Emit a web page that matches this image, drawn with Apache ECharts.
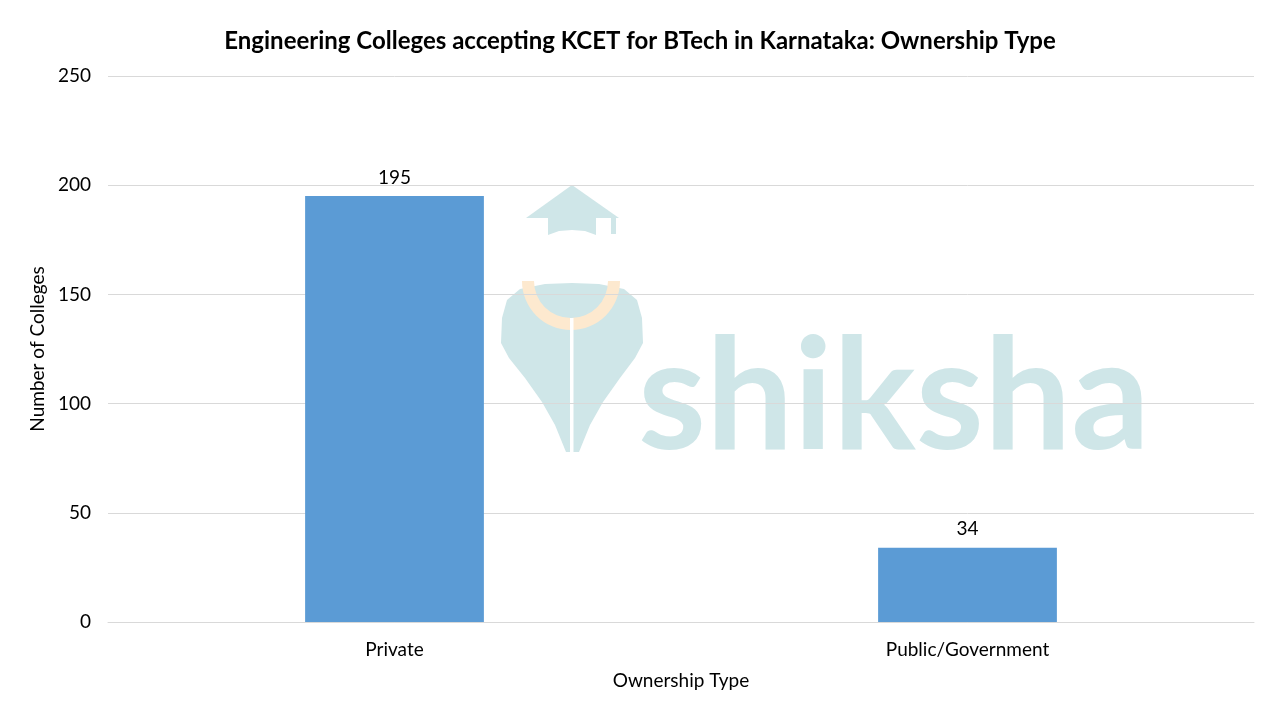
<!DOCTYPE html>
<html><head><meta charset="utf-8">
<script src="https://cdn.jsdelivr.net/npm/echarts@6/dist/echarts.min.js"></script>
<style>html,body{margin:0;padding:0;background:#fff}#c{width:1280px;height:720px}</style>
</head><body><div id="c"></div>
<script>
const categories = ['Private', 'Public/Government'];
const colleges = [195, 34];
const yTicks = [0, 50, 100, 150, 200, 250];

const chart = echarts.init(document.getElementById('c'));
const F = 'Lato, "Open Sans", sans-serif';
const WM = '#cfe6e8';
chart.setOption({
  animation: false,
  backgroundColor: '#fff',
  title: {
    text: 'Engineering Colleges accepting KCET for BTech in Karnataka: Ownership Type',
    left: 'center', top: 24,
    textStyle: { fontFamily: F, fontWeight: 'bold', fontSize: 24, color: '#000' }
  },
  graphic: [
    { type: 'text', left: 638, top: 322, z: -10, silent: true,
      style: { text: 'shiksha', fill: WM, font: 'bold 155px Lato, sans-serif' } },
    { type: 'polygon', z: -10, silent: true,
      shape: { points: [[501,343],[502,318],[507,300],[520,289],[545,284],[572,283],[599,284],[624,289],[637,300],[642,318],[643,343],
        [635,358],[620,378],[603,402],[590,425],[579,452],[566,452],[555,425],[542,402],[525,378],[509,358]] },
      style: { fill: WM } },
    { type: 'sector', z: -9, silent: true,
      shape: { cx: 571, cy: 281, r: 49, r0: 37, startAngle: 0, endAngle: Math.PI },
      style: { fill: '#fde9cf' } },
    { type: 'rect', z: -8, silent: true,
      shape: { x: 570, y: 318, width: 3.5, height: 136 }, style: { fill: '#fff' } },
    { type: 'polygon', z: -10, silent: true,
      shape: { points: [[526, 218], [619, 218], [572, 185]] }, style: { fill: WM } },
    { type: 'polygon', z: -10, silent: true,
      shape: { points: [[548,217],[596,217],[596,235],[585,231],[572,230],[559,231],[548,235]] }, style: { fill: WM } },
    { type: 'rect', z: -10, silent: true,
      shape: { x: 611, y: 217, width: 5, height: 17 }, style: { fill: WM } }
  ],
  grid: { left: 108, right: 26, top: 76, bottom: 98, containLabel: false },
  xAxis: {
    type: 'category', data: categories,
    name: 'Ownership Type', nameLocation: 'middle', nameGap: 49,
    nameTextStyle: { fontFamily: F, fontSize: 19, color: '#000' },
    axisLine: { lineStyle: { color: '#d9d9d9' } },
    axisTick: { show: false },
    axisLabel: { fontFamily: F, fontSize: 19, color: '#000', margin: 18 }
  },
  yAxis: {
    type: 'value', min: yTicks[0], max: yTicks[yTicks.length - 1], interval: 50,
    name: 'Number of Colleges', nameLocation: 'middle', nameGap: 54,
    nameTextStyle: { fontFamily: F, fontSize: 19, color: '#000' },
    axisLine: { show: false }, axisTick: { show: false },
    axisLabel: { fontFamily: F, fontSize: 19, color: '#000', margin: 17 },
    splitLine: { lineStyle: { color: '#d9d9d9' } }
  },
  series: [{
    type: 'bar', data: colleges, barWidth: '31.2%',
    itemStyle: { color: '#5b9bd5' },
    label: { show: true, position: 'top', distance: 9, fontFamily: F, fontSize: 19, color: '#000' }
  }]
});
</script></body></html>
